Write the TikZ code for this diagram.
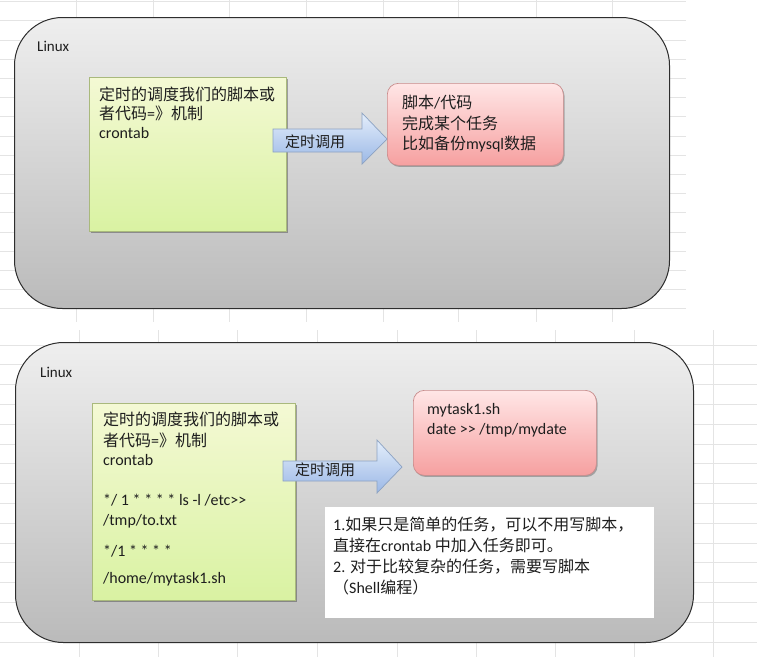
\documentclass[tikz,border=0pt]{standalone}
\usepackage{fontspec}
\setmainfont{Carlito}
\newfontfamily\cjk{Noto Sans CJK SC}
\usetikzlibrary{shadows}
\definecolor{gridc}{HTML}{E4E4E4}
\definecolor{gtop}{HTML}{F4F9D4}
\definecolor{gbot}{HTML}{D9F2A2}
\definecolor{gline}{HTML}{A9B97C}
\definecolor{rtop}{HTML}{FFE6E6}
\definecolor{rbot}{HTML}{F6A0A0}
\definecolor{rline}{HTML}{C88C8C}
\definecolor{atop}{HTML}{E4EEFB}
\definecolor{abot}{HTML}{9BB8E6}
\definecolor{aline}{HTML}{8CA2C2}
\definecolor{txtc}{HTML}{1E1E1E}
\tikzset{
  gridline/.style={draw=gridc, line width=0.8pt},
  panel/.style={rectangle, draw=black!82, line width=1pt, rounded corners=48pt,
    top color=gray!13, bottom color=gray!54, inner sep=0pt, anchor=north west},
  greenbox/.style={rectangle, draw=gline, line width=0.7pt, top color=gtop, bottom color=gbot,
    inner sep=0pt, anchor=north west,
    drop shadow={shadow xshift=1.2pt, shadow yshift=-1.6pt, opacity=0.3, fill=black}},
  redbox/.style={rectangle, draw=rline, line width=0.7pt, rounded corners=11pt, top color=rtop, bottom color=rbot,
    inner sep=0pt, anchor=north west,
    drop shadow={shadow xshift=1.2pt, shadow yshift=-1.6pt, opacity=0.25, fill=black}},
  whitebox/.style={rectangle, fill=white, inner sep=0pt, anchor=north west},
  blockarrow/.style={draw=aline, line width=0.7pt, top color=atop, bottom color=abot, line join=miter},
  txt/.style={anchor=base west, inner sep=0pt, font=\fontsize{16}{19}\selectfont, text=txtc},
  lbl/.style={anchor=base west, inner sep=0pt, font=\fontsize{15}{18}\selectfont, text=txtc},
  osname/.style={anchor=base west, inner sep=0pt, font=\fontsize{15}{18}\selectfont, text=txtc}
}
\begin{document}
\begin{tikzpicture}[x=1pt,y=-1pt]
\useasboundingbox (0,0) rectangle (757,657);
\fill[white] (0,0) rectangle (757,657);
% spreadsheet grid, top
\foreach \k in {0,...,16} {\draw[gridline] (0,{1.5+19.2*\k}) -- (686,{1.5+19.2*\k});}
\foreach \x in {76,153,229,306,383,458,536,612} {\draw[gridline] (\x,0) -- (\x,322);}
% spreadsheet grid, bottom
\foreach \k in {0,...,15} {\draw[gridline] (0,{345+19.8*\k}) -- (757,{345+19.8*\k});}
\foreach \x in {79,158,237,317,397,476,555,634,713} {\draw[gridline] (\x,330) -- (\x,657);}

% ---------- top panel ----------
\node[panel, minimum width=655pt, minimum height=291pt] (p1) at (14,17) {};
\node[osname] (os1) at (37,51) {Linux};
\node[greenbox, minimum width=197pt, minimum height=154pt] (g1) at (89,77) {};
\node[txt] (g1a) at (99,100) {\cjk 定时的调度我们的脚本或};
\node[txt] (g1b) at (99,119) {\cjk 者代码{\rmfamily =}》机制};
\node[txt] (g1c) at (99,138) {crontab};
\node[redbox, minimum width=176pt, minimum height=82pt] (r1) at (387,83) {};
\node[txt] (r1a) at (402,108) {{\cjk 脚本}/{\cjk 代码}};
\node[txt] (r1b) at (402,129) {\cjk 完成某个任务};
\node[txt] (r1c) at (402,149) {{\cjk 比如备份}mysql{\cjk 数据}};
\draw[blockarrow] (273,129) -- (362,129) -- (362,113) -- (387,139) -- (362,164) -- (362,152) -- (273,152) -- cycle;
\node[lbl] (a1) at (285,147) {\cjk 定时调用};

% ---------- bottom panel ----------
\node[panel, minimum width=678pt, minimum height=300pt] (p2) at (15,342) {};
\node[osname] (os2) at (40,377) {Linux};
\node[greenbox, minimum width=203pt, minimum height=197pt] (g2) at (92,403) {};
\node[txt] (g2a) at (103,425) {\cjk 定时的调度我们的脚本或};
\node[txt] (g2b) at (103,446) {\cjk 者代码{\rmfamily =}》机制};
\node[txt] (g2c) at (103,465) {crontab};
\node[txt] (g2d) at (103,505) {*/ 1 * * * * ls -l /etc>{}>};
\node[txt] (g2e) at (103,525) {/tmp/to.txt};
\node[txt] (g2f) at (103,556) {*/1 * * * *};
\node[txt] (g2g) at (103,583) {/home/mytask1.sh};
\node[redbox, minimum width=183pt, minimum height=85pt] (r2) at (413,390) {};
\node[txt] (r2a) at (427,414) {mytask1.sh};
\node[txt] (r2b) at (427,434) {date >{}> /tmp/mydate};
\draw[blockarrow] (283,461) -- (377,461) -- (377,440) -- (402,467) -- (377,493) -- (377,481) -- (283,481) -- cycle;
\node[lbl] (a2) at (295,475) {\cjk 定时调用};
\node[whitebox, minimum width=329pt, minimum height=111pt] (w2) at (325,507) {};
\node[txt] (w2a) at (333,530) {1.{\cjk 如果只是简单的任务，可以不用写脚本，}};
\node[txt] (w2b) at (333,551) {{\cjk 直接在}crontab {\cjk 中加入任务即可。}};
\node[txt] (w2c) at (333,572) {2. {\cjk 对于比较复杂的任务，需要写脚本}};
\node[txt] (w2d) at (333,593) {{\cjk （}Shell{\cjk 编程）}};
\end{tikzpicture}
\end{document}
